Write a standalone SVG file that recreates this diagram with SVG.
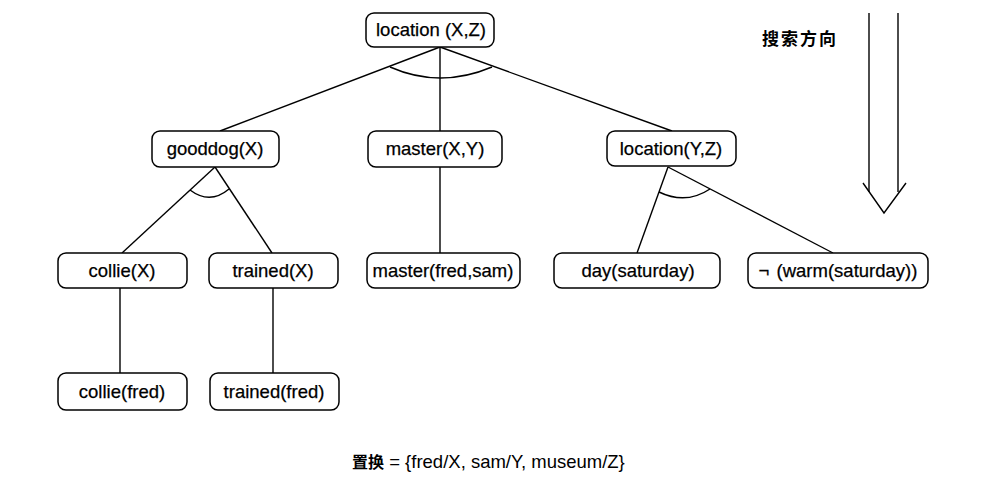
<svg xmlns="http://www.w3.org/2000/svg" width="981" height="487" viewBox="0 0 981 487">
<style>
.box{fill:#fff;stroke:#000;stroke-width:1.5}
.t{font-family:"Liberation Sans",Arial,sans-serif;font-size:18.5px;fill:#000;stroke:#000;stroke-width:0.25;text-anchor:middle}
.c{fill:none;stroke:#000;stroke-width:1.4}
.cjk{font-family:"Liberation Sans","Noto Sans CJK SC",sans-serif;fill:#000}
</style>
<rect width="981" height="487" fill="#fff"/>
<g id="connectors">
<line class="c" x1="440" y1="47" x2="220" y2="131"/>
<line class="c" x1="440" y1="47" x2="440" y2="131"/>
<line class="c" x1="440" y1="47" x2="672" y2="131"/>
<path class="c" d="M390,67 Q440,89 492,67"/>
<line class="c" x1="215" y1="167" x2="122" y2="253"/>
<line class="c" x1="215" y1="167" x2="272" y2="253"/>
<path class="c" d="M190,190 Q210,205 229,189"/>
<line class="c" x1="440" y1="167" x2="440" y2="253"/>
<line class="c" x1="668" y1="167" x2="637" y2="253"/>
<line class="c" x1="668" y1="167" x2="833" y2="253"/>
<path class="c" d="M659,192 Q686,205 710,189"/>
<line class="c" x1="120" y1="288" x2="120" y2="373"/>
<line class="c" x1="273" y1="288" x2="273" y2="373"/>
</g>
<g id="n-location-XZ"><rect class="box" x="366" y="13" width="128" height="34" rx="8"/><text class="t" x="431" y="36">location (X,Z)</text></g>
<g id="n-gooddog"><rect class="box" x="152" y="131" width="127" height="36" rx="8"/><text class="t" x="215" y="155">gooddog(X)</text></g>
<g id="n-master-XY"><rect class="box" x="368" y="131" width="134" height="36" rx="8"/><text class="t" x="435" y="155">master(X,Y)</text></g>
<g id="n-location-YZ"><rect class="box" x="607" y="131" width="129" height="35" rx="8"/><text class="t" x="671" y="155">location(Y,Z)</text></g>
<g id="n-collie-X"><rect class="box" x="58" y="253" width="129" height="35" rx="8"/><text class="t" x="122" y="277">collie(X)</text></g>
<g id="n-trained-X"><rect class="box" x="209" y="253" width="129" height="35" rx="8"/><text class="t" x="273" y="277">trained(X)</text></g>
<g id="n-master-fs"><rect class="box" x="367" y="253" width="153" height="35" rx="8"/><text class="t" x="443" y="277">master(fred,sam)</text></g>
<g id="n-day"><rect class="box" x="554" y="253" width="166" height="35" rx="8"/><text class="t" x="638" y="277">day(saturday)</text></g>
<g id="n-not-warm"><rect class="box" x="748" y="253" width="180" height="35" rx="8"/><text class="t" x="838" y="277">¬ <tspan dx="2">(warm(saturday))</tspan></text></g>
<g id="n-collie-fred"><rect class="box" x="58" y="373" width="129" height="37" rx="8"/><text class="t" x="122" y="398">collie(fred)</text></g>
<g id="n-trained-fred"><rect class="box" x="210" y="373" width="129" height="37" rx="8"/><text class="t" x="274" y="398">trained(fred)</text></g>
<g id="search-direction">
<line class="c" x1="869" y1="13" x2="869" y2="192"/>
<line class="c" x1="898" y1="13" x2="898" y2="192"/>
<polyline class="c" points="863,183 884,213 906,183"/>
<text class="cjk" x="762" y="45" font-size="17" font-weight="bold" letter-spacing="2">搜索方向</text>
</g>
<text class="cjk" x="352" y="468" font-size="18.5"><tspan font-size="16" font-weight="bold">置换</tspan> = {fred/X, sam/Y, museum/Z}</text>
</svg>
